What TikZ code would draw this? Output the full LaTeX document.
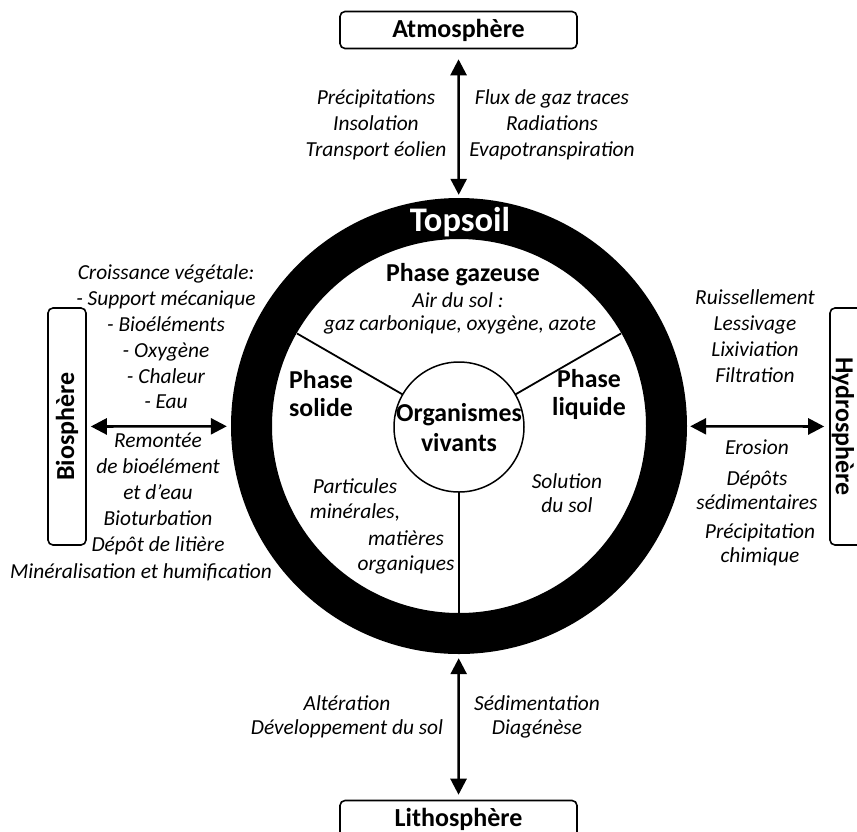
\documentclass[tikz,border=0pt]{standalone}
\usepackage{fontspec}
\setmainfont{Carlito}
\usetikzlibrary{arrows.meta,calc}
\tikzset{
  it/.style={font=\itshape\fontsize{21.4}{25.8}\selectfont, align=center, inner sep=0pt},
  bf/.style={font=\bfseries\fontsize{25.8}{28}\selectfont, align=center, inner sep=0pt},
  sphere/.style={draw, line width=1.6pt, rounded corners=5pt, minimum width=237pt, minimum height=37pt, inner sep=0pt, font=\bfseries\fontsize{26}{28}\selectfont},
  spherebox/.style={draw, line width=1.6pt, rounded corners=5pt, minimum width=38pt, minimum height=237pt, inner sep=0pt},
  spheretext/.style={font=\bfseries\fontsize{26}{28}\selectfont, inner sep=0pt},
  dbl/.style={line width=2.6pt, {Triangle[length=16pt,width=16pt]}-{Triangle[length=16pt,width=16pt]}},
  divider/.style={line width=1.8pt},
}
\begin{document}
\begin{tikzpicture}[x=1pt,y=-1pt]
\clip (0,0) rectangle (857,831);
\fill[white] (0,0) rectangle (857,831);
% soil ring
\node[circle, minimum size=456pt, inner sep=0pt] (soil) at (459,426) {};
\draw[line width=41pt] (459,426) circle[radius=207.5];
\node[circle, draw, line width=1.5pt, minimum size=130pt, inner sep=0pt] (org) at (459,427) {};
\coordinate (c) at (459,427);
\draw[divider] ($(c)+(210:65)$) -- ($(c)+(210:187)$);
\draw[divider] ($(c)+(330:65)$) -- ($(c)+(330:187)$);
\draw[divider] ($(c)+(90:65)$) -- ($(c)+(90:187)$);
\node[font=\bfseries\fontsize{34.5}{36}\selectfont, text=white, inner sep=0pt] (topsoil) at (460,222) {Topsoil};
% spheres
\node[sphere] (atm) at (458.5,30) {Atmosphère};
\node[sphere] (litho) at (458.5,819) {Lithosphère};
\node[spherebox] (bio) at (67,426.5) {};
\node[spheretext, rotate=90] (biot) at (67,426.5) {Biosphère};
\node[spherebox] (hydro) at (849,426.5) {};
\node[spheretext, rotate=-90] (hydrot) at (843,426.5) {Hydrosphère};
% arrows
\draw[dbl, shorten <=10pt, shorten >=3pt] (atm) -- (soil);
\draw[dbl, shorten <=4pt, shorten >=5pt] (soil) -- (litho);
\draw[dbl, shorten <=4pt, shorten >=4pt] (bio) -- (soil);
\draw[dbl, shorten <=3pt, shorten >=5pt] (soil) -- (hydro);
% atmosphere labels
\node[it] (atmL) at (376,125) {Précipitations\\Insolation\\Transport éolien};
\node[it] (atmR) at (552,125) {Flux de gaz traces\\Radiations\\Evapotranspiration};
% lithosphere labels
\node[it, font=\itshape\fontsize{21.4}{23.5}\selectfont] (litL) at (347,717) {Altération\\Développement du sol};
\node[it, font=\itshape\fontsize{21.4}{23.5}\selectfont] (litR) at (537,717) {Sédimentation\\Diagénèse};
% biosphere labels
\node[it] (bioT) at (166,337) {Croissance végétale:\\- Support mécanique\\- Bioéléments\\- Oxygène\\- Chaleur\\- Eau};
\node[it] (bioB) at (158,494) {Remontée\\de bioélément\\et d’eau\\Bioturbation\\Dépôt de litière};
\node[it] (bioM) at (141,572) {Minéralisation et humification};
% hydrosphere labels
\node[it] (hyT) at (755,336) {Ruissellement\\Lessivage\\Lixiviation\\Filtration};
\node[it] (hyE) at (757,447) {Erosion};
\node[it, font=\itshape\fontsize{21.4}{24}\selectfont] (hyD) at (757,490) {Dépôts\\sédimentaires};
\node[it, font=\itshape\fontsize{21.4}{24}\selectfont] (hyP) at (760,545) {Précipitation\\chimique};
% inner labels
\node[bf] (gaz) at (463,275) {Phase gazeuse};
\node[it] (air) at (458,300) {Air du sol :};
\node[it] (gazc) at (460,325) {gaz carbonique, oxygène, azote};
\node[bf] (sol) at (321,394) {Phase\\solide};
\node[bf] (liq) at (589,394) {Phase\\liquide};
\node[bf, font=\bfseries\fontsize{25.8}{30}\selectfont] (orgt) at (459,428) {Organismes\\vivants};
\node[it, font=\itshape\fontsize{21.4}{25}\selectfont] (part) at (355,500) {Particules\\minérales,};
\node[it, font=\itshape\fontsize{21.4}{25}\selectfont] (mat) at (406,552) {matières\\organiques};
\node[it, font=\itshape\fontsize{21.4}{24}\selectfont] (solu) at (567,493) {Solution\\du sol};
\end{tikzpicture}
\end{document}
